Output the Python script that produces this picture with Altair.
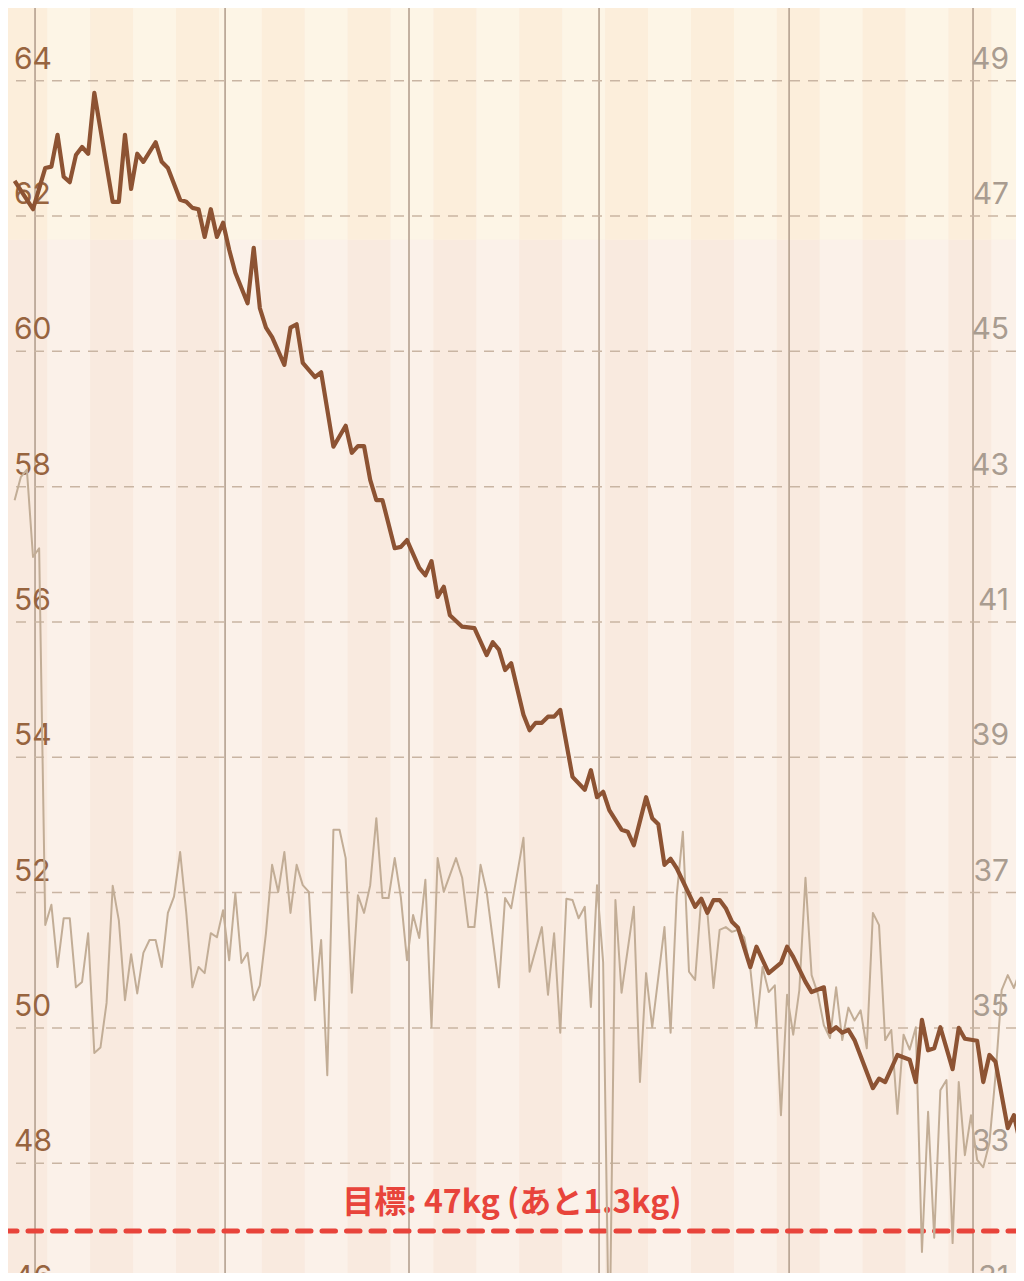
import altair as alt
import pandas as pd

# ---- data (day index: 0 = last day before the first month line) ----
weight_days = [-3, 0, 2, 3, 4, 5, 6, 7, 8, 9, 10, 13, 14, 15, 16, 17, 18, 20, 21, 22,
               24, 25, 26, 27, 28, 29, 30, 31, 32, 33, 35, 36, 37, 38, 39, 41, 42, 43, 44, 46,
               47, 49, 51, 52, 53, 54, 55, 56, 57, 59, 60, 61, 63, 64, 65, 66, 67, 68, 70, 72,
               74, 75, 76, 77, 78, 80, 81, 82, 83, 84, 85, 86, 88, 90, 91, 92, 93, 94, 96, 97,
               98, 100, 101, 102, 103, 104, 105, 108, 109, 110, 111, 112, 113, 114, 115, 117, 118, 120, 122, 123,
               124, 126, 127, 129, 130, 131, 132, 133, 134, 137, 138, 139, 141, 143, 144, 145, 146, 147, 148, 150,
               151, 152, 154, 155, 156, 157, 159, 160, 161]
weight_kg = [62.52, 62.10, 62.71, 62.73, 63.20, 62.58, 62.50, 62.90, 63.02, 62.92, 63.82, 62.21, 62.21, 63.20, 62.40, 62.92, 62.80, 63.09, 62.80, 62.71,
             62.24, 62.21, 62.12, 62.10, 61.69, 62.10, 61.69, 61.90, 61.50, 61.16, 60.71, 61.53, 60.64, 60.35, 60.21, 59.80, 60.35, 60.40, 59.83, 59.62,
             59.69, 58.59, 58.90, 58.50, 58.60, 58.60, 58.10, 57.80, 57.80, 57.09, 57.11, 57.21, 56.80, 56.69, 56.90, 56.37, 56.52, 56.10, 55.93, 55.91,
             55.51, 55.70, 55.59, 55.29, 55.39, 54.63, 54.40, 54.51, 54.51, 54.60, 54.60, 54.70, 53.71, 53.52, 53.81, 53.41, 53.49, 53.22, 52.93, 52.90,
             52.70, 53.41, 53.10, 53.01, 52.41, 52.50, 52.36, 51.79, 51.91, 51.70, 51.89, 51.89, 51.77, 51.57, 51.48, 50.90, 51.20, 50.81, 50.96, 51.20,
             51.05, 50.68, 50.53, 50.60, 49.94, 50.01, 49.93, 49.97, 49.82, 49.11, 49.25, 49.20, 49.60, 49.53, 49.20, 50.12, 49.67, 49.70, 50.01, 49.39,
             50.00, 49.84, 49.81, 49.20, 49.60, 49.50, 48.52, 48.71, 48.31]

fat_days = [-3, -2, -1, 0, 1, 2, 3, 4, 5, 6, 7, 8, 9, 10, 11, 12, 13, 14, 15, 16,
            17, 18, 19, 20, 21, 22, 23, 24, 25, 26, 27, 28, 29, 30, 31, 32, 33, 34, 35, 36,
            37, 38, 39, 40, 41, 42, 43, 44, 45, 46, 47, 48, 49, 50, 51, 52, 53, 54, 55, 56,
            57, 58, 59, 60, 61, 62, 63, 64, 65, 66, 67, 69, 70, 71, 72, 73, 74, 76, 77, 78,
            80, 81, 83, 84, 85, 86, 87, 88, 89, 90, 91, 92, 93, 94, 95, 96, 98, 99, 100, 101,
            103, 104, 105, 106, 107, 108, 109, 110, 111, 112, 113, 114, 115, 116, 117, 118, 119, 120, 121, 122,
            123, 124, 125, 126, 127, 128, 129, 130, 131, 132, 133, 134, 135, 136, 137, 138, 139, 140, 141, 142,
            143, 144, 145, 146, 147, 148, 149, 150, 151, 152, 153, 154, 155, 156, 157, 158, 159, 160, 161]
fat_pct = [42.80, 43.14, 43.25, 41.96, 42.09, 36.52, 36.82, 35.90, 36.62, 36.62, 35.60, 35.68, 36.40, 34.63, 34.71, 35.37, 37.10, 36.59, 35.41, 36.09,
           35.51, 36.11, 36.30, 36.30, 35.90, 36.70, 36.94, 37.60, 36.70, 35.60, 35.90, 35.81, 36.40, 36.34, 36.74, 36.00, 36.99, 35.96, 36.11, 35.41,
           35.63, 36.40, 37.41, 37.01, 37.60, 36.70, 37.41, 37.11, 37.01, 35.41, 36.30, 34.30, 37.93, 37.93, 37.51, 35.52, 36.96, 36.70, 37.11, 38.10,
           36.92, 36.92, 37.51, 36.93, 36.00, 36.67, 36.33, 37.19, 35.01, 37.51, 37.01, 37.51, 37.22, 36.49, 36.49, 37.41, 37.01, 35.60, 36.92, 36.77,
           37.81, 35.83, 36.49, 35.49, 36.40, 34.93, 36.91, 36.89, 36.62, 36.79, 35.31, 37.11, 35.97, 30.00, 36.89, 35.52, 36.79, 34.20, 35.81, 35.01,
           36.49, 34.93, 36.96, 37.90, 35.83, 35.71, 36.92, 36.71, 35.59, 36.45, 36.49, 36.42, 36.45, 36.34, 35.88, 35.01, 35.90, 35.53, 35.63, 33.71,
           35.49, 34.90, 35.56, 37.22, 35.78, 35.51, 35.04, 34.85, 35.60, 34.82, 35.30, 35.11, 35.26, 34.70, 36.70, 36.52, 34.82, 34.97, 33.73, 34.90,
           34.68, 35.01, 31.69, 33.76, 31.90, 34.08, 34.23, 31.82, 34.20, 33.12, 33.71, 33.05, 32.94, 33.30, 34.30, 35.56, 35.78, 35.59, 35.85]

weight_ticks = [46, 48, 50, 52, 54, 56, 58, 60, 62, 64]
fat_ticks = [31, 33, 35, 37, 39, 41, 43, 45, 47, 49]
month_starts = [0.33, 31.33, 61.33, 92.33, 123.33, 153.33]
week_edges = [-4.67, 2.33, 9.33, 16.33, 23.33, 30.33, 37.33, 44.33, 51.33, 58.33, 65.33, 72.33,
              79.33, 86.33, 93.33, 100.33, 107.33, 114.33, 121.33, 128.33, 135.33, 142.33,
              149.33, 156.33, 163.33]
zone_edges = [45.0, 61.65, 66.0]
goal_kg = 47
goal_label = "目標: 47kg (あと1.3kg)"

# ---- layout ----
W, H = 1008, 1265
xs = alt.Scale(domain=[-4.08, 160.34], nice=False, zero=False)
yws = alt.Scale(domain=[46.378, 65.074], nice=False, zero=False)
yfs = alt.Scale(domain=[31.378, 50.074], nice=False, zero=False)

zone_colors = [("#F9EADF", "#FBF1E9"), ("#FCEEDB", "#FDF5E6")]  # (dark, light)
rows = []
for i in range(len(week_edges) - 1):
    for z in range(len(zone_edges) - 1):
        rows.append(dict(x0=week_edges[i], x1=week_edges[i + 1],
                         y0=zone_edges[z], y1=zone_edges[z + 1],
                         c=zone_colors[z][i % 2]))
bands = pd.DataFrame(rows)

bg = alt.Chart(bands).mark_rect(strokeWidth=0).encode(
    x=alt.X("x0:Q", scale=xs, axis=None), x2="x1:Q",
    y=alt.Y("y0:Q", scale=yws, axis=None), y2="y1:Q",
    color=alt.Color("c:N", scale=None),
)

months = alt.Chart(pd.DataFrame({"k": month_starts})).mark_rule(
    color="#B4A08F", strokeWidth=1.6
).encode(x=alt.X("k:Q", scale=xs, axis=None))

grid = alt.Chart(pd.DataFrame({"w": weight_ticks})).mark_rule(
    color="#C9B5A3", strokeWidth=1.5, strokeDash=[10, 8]
).encode(y=alt.Y("w:Q", scale=yws, axis=None))

left_lab = alt.Chart(pd.DataFrame({"w": weight_ticks})).mark_text(
    align="left", baseline="alphabetic", dy=-12, font="Inter", fontSize=30, color="#97643F"
).encode(x=alt.value(6), y=alt.Y("w:Q", scale=yws, axis=None), text=alt.Text("w:Q", format="d"))

right_lab = alt.Chart(pd.DataFrame({"f": fat_ticks})).mark_text(
    align="right", baseline="alphabetic", dy=-12, font="Inter", fontSize=30, color="#A99C90"
).encode(x=alt.value(1001), y=alt.Y("f:Q", scale=yfs, axis=None), text=alt.Text("f:Q", format="d"))

goal = alt.Chart(pd.DataFrame({"w": [goal_kg]})).mark_rule(
    color="#E8443B", strokeWidth=5, strokeDash=[13.5, 11], strokeCap="round", strokeDashOffset=5.5
).encode(y=alt.Y("w:Q", scale=yws, axis=None))

goal_text = alt.Chart(pd.DataFrame({"w": [goal_kg], "t": [goal_label]})).mark_text(
    align="center", baseline="alphabetic", dy=-18, font="Noto Sans CJK JP",
    fontSize=32, fontWeight="bold", color="#E8443B"
).encode(x=alt.value(504), y=alt.Y("w:Q", scale=yws, axis=None), text="t:N")

fat_line = alt.Chart(pd.DataFrame({"k": fat_days, "f": fat_pct})).mark_line(
    color="#C2AD96", strokeWidth=2, strokeJoin="round"
).encode(x=alt.X("k:Q", scale=xs, axis=None), y=alt.Y("f:Q", scale=yfs, axis=None))

weight_line = alt.Chart(pd.DataFrame({"k": weight_days, "w": weight_kg})).mark_line(
    color="#8D5333", strokeWidth=4.2, strokeJoin="round"
).encode(x=alt.X("k:Q", scale=xs, axis=None), y=alt.Y("w:Q", scale=yws, axis=None))

chart = alt.layer(
    bg, months, grid, left_lab, right_lab, goal, goal_text, fat_line, weight_line
).resolve_scale(y="independent").properties(
    width=W, height=H, padding=0,
    autosize=alt.AutoSizeParams(type="none"),
    background="#FAEEE5",
).configure_view(stroke=None)

chart.save("out.html", embed_options={"renderer": "svg", "actions": False})
